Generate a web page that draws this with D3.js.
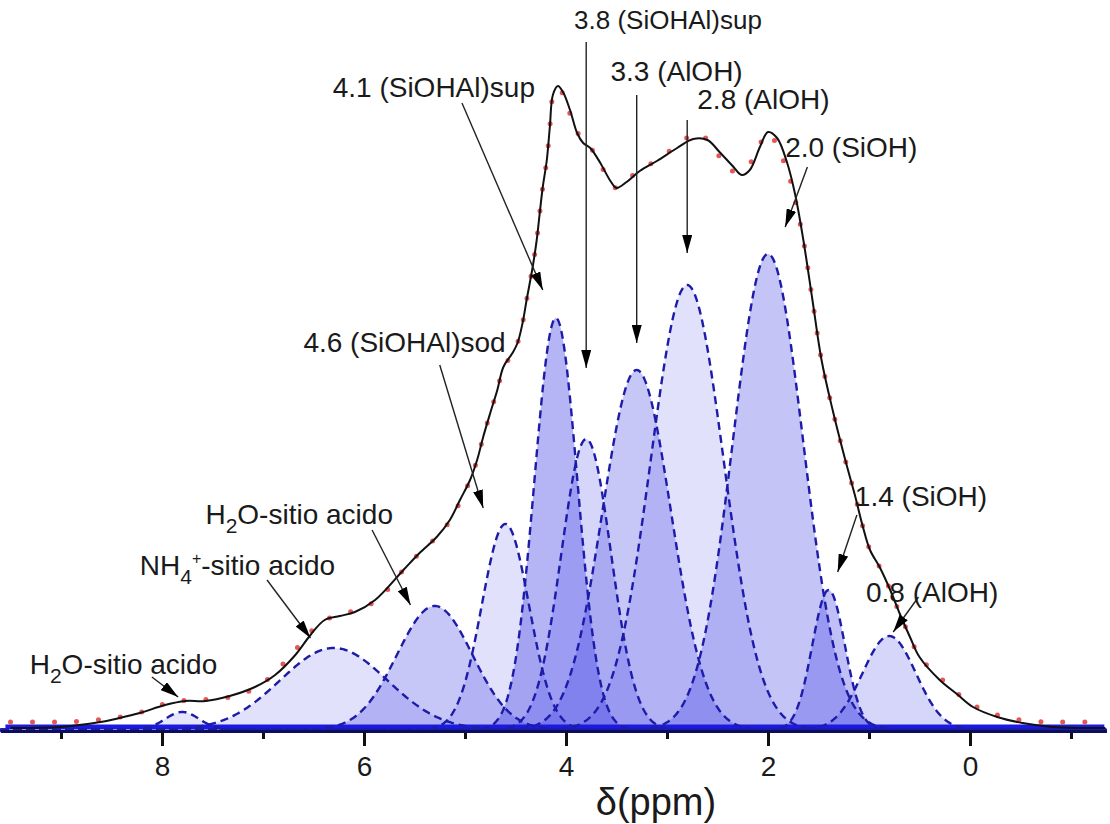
<!DOCTYPE html>
<html>
<head>
<meta charset="utf-8">
<script src="https://cdn.jsdelivr.net/npm/d3@7/dist/d3.min.js"></script>
<style>
  html, body { margin: 0; padding: 0; background: #ffffff; }
  svg { display: block; }
  text { font-family: "Liberation Sans", Arial, sans-serif; fill: #1a1a1a; }
</style>
</head>
<body>
<svg id="chart" width="1110" height="824"></svg>
<script>
// 1H MAS NMR spectrum: deconvolution into Gaussian components

// axis ticks (ppm)
const majorTicks = [8, 6, 4, 2, 0];
const minorTicks = [9, 7, 5, 3, 1, -1];

// fitted components: position (ppm), height (a.u.), full width at half maximum (ppm)
const peakCenters = [7.8, 6.3, 5.3, 4.6, 4.1, 3.8, 3.3, 2.8, 2.0, 1.4, 0.8];
const peakHeights = [1.8, 8.2, 12.4, 20.6, 41.2, 29.1, 36.0, 44.5, 47.6, 14.0, 9.4];
const peakFwhm    = [0.40, 1.25, 0.88, 0.55, 0.50, 0.58, 0.80, 0.85, 0.82, 0.38, 0.62];

// overall fit (ppm, a.u.)
const fitPpm = [9.50, 9.01, 8.61, 8.42, 8.22, 7.97, 7.77, 7.57, 7.33, 7.08, 6.88, 6.68, 6.53, 6.39, 6.24, 6.09, 5.89,
  5.61, 5.45, 5.28, 5.15, 5.05, 4.95, 4.88, 4.82, 4.75, 4.68, 4.62, 4.53, 4.48, 4.43, 4.39, 4.33, 4.29, 4.26, 4.23,
  4.19, 4.16, 4.13, 4.08, 4.03, 3.96, 3.89, 3.83, 3.76, 3.66, 3.56, 3.50, 3.40, 3.27, 3.10, 2.90, 2.74, 2.60, 2.48,
  2.35, 2.26, 2.18, 2.08, 2.00, 1.91, 1.81, 1.73, 1.65, 1.56, 1.47, 1.36, 1.24, 1.14, 1.06, 0.99, 0.89, 0.79, 0.69,
  0.59, 0.50, 0.30, 0.13, -0.03, -0.27, -0.52, -0.82, -1.09, -1.34];
const fitInt = [0.2, 0.3, 0.8, 1.2, 1.7, 2.5, 2.9, 2.9, 3.4, 4.3, 5.5, 7.5, 9.5, 11.0, 11.4, 11.8, 13.0,
  16.0, 17.7, 19.3, 21.0, 23.0, 25.0, 27.0, 29.3, 31.7, 34.0, 36.3, 37.7, 38.7, 40.7, 43.0, 46.3, 49.0, 51.7, 54.3,
  57.0, 60.3, 63.5, 64.4, 63.8, 62.0, 59.7, 58.7, 58.2, 56.7, 54.9, 54.2, 54.8, 55.9, 56.9, 58.2, 59.1, 59.0, 57.8,
  56.4, 55.5, 56.0, 58.3, 59.8, 59.2, 56.7, 53.5, 49.0, 43.0, 37.0, 32.0, 27.2, 23.5, 20.3, 18.0, 16.2, 14.0, 11.5,
  9.2, 7.3, 5.0, 3.6, 2.3, 1.3, 0.7, 0.3, 0.2, 0.2];

// experimental spectrum (ppm, a.u.)
const expPpm = [9.50, 9.18, 8.93, 8.66, 8.42, 8.17, 7.95, 7.72, 7.48, 7.23, 7.00, 6.83, 6.68, 6.53, 6.36, 6.14, 5.87,
  5.61, 5.45, 5.28, 5.15, 5.05, 4.95, 4.88, 4.82, 4.75, 4.68, 4.62, 4.53, 4.48, 4.43, 4.39, 4.33, 4.29, 4.26, 4.23,
  4.19, 4.16, 4.13, 4.08, 4.03, 3.98, 3.89, 3.74, 3.63, 3.50, 3.30, 3.10, 2.89, 2.70, 2.52, 2.40, 2.21, 2.10, 2.00,
  1.85, 1.78, 1.65, 1.56, 1.47, 1.36, 1.24, 1.14, 1.06, 0.99, 0.89, 0.79, 0.69, 0.59, 0.50, 0.30, 0.13, -0.07, -0.27,
  -0.50, -0.76, -0.99, -1.34];
const expInt = [0.8, 0.8, 0.8, 1.0, 1.3, 1.9, 2.7, 3.0, 3.1, 3.5, 4.7, 6.3, 8.0, 9.8, 11.1, 11.8, 13.0,
  16.0, 17.7, 19.3, 20.9, 22.8, 25.0, 27.0, 29.3, 31.7, 34.0, 36.2, 37.6, 38.7, 40.7, 43.0, 46.3, 49.0, 51.7, 54.3,
  57.0, 60.3, 63.3, 64.2, 63.6, 62.2, 59.8, 58.0, 56.0, 54.2, 55.8, 57.0, 58.5, 59.7, 58.0, 56.0, 56.3, 58.2, 59.7,
  57.0, 55.0, 49.0, 43.0, 37.0, 32.0, 27.2, 23.5, 20.3, 18.0, 16.2, 14.0, 11.5, 9.2, 7.3, 5.3, 3.7, 2.3, 1.5,
  1.0, 0.8, 0.8, 0.8];

// peak assignments: label anchor and arrow (from -> tip), all in (ppm, a.u.)
const annotations = [
  { parts: [["3.8 (SiOHAl)sup"]],            at: [3.92, 70.1], from: [3.8, 68.8],  to: [3.8, 36.2], size: 26 },
  { parts: [["4.1 (SiOHAl)sup"]],            at: [6.31, 63.3], from: [5.03, 62.7], to: [4.23, 44.0] },
  { parts: [["3.3 (AlOH)"]],                 at: [3.56, 64.9], from: [3.3, 63.5],  to: [3.3, 38.7] },
  { parts: [["2.8 (AlOH)"]],                 at: [2.70, 62.1], from: [2.8, 61.0],  to: [2.8, 47.7] },
  { parts: [["2.0 (SiOH)"]],                 at: [1.83, 57.3], from: [1.61, 56.3], to: [1.83, 50.3] },
  { parts: [["4.6 (SiOHAl)sod"]],            at: [6.60, 37.8], from: [5.25, 36.5], to: [4.82, 22.2] },
  { parts: [["H"], ["2", "sub"], ["O-sitio acido"]], at: [7.57, 20.6], from: [5.92, 20.0], to: [5.54, 12.5] },
  { parts: [["NH"], ["4", "sub"], ["+", "sup"], ["-sitio acido"]], at: [8.22, 15.5], from: [6.96, 15.0], to: [6.53, 9.2] },
  { parts: [["H"], ["2", "sub"], ["O-sitio acido"]], at: [9.31, 5.6], from: [8.10, 5.3], to: [7.84, 3.3] },
  { parts: [["1.4 (SiOH)"]],                 at: [1.14, 22.4], from: [1.12, 21.5], to: [1.31, 15.8] },
  { parts: [["0.8 (AlOH)"]],                 at: [1.03, 12.8], from: [0.51, 13.3], to: [0.76, 9.8] }
];

// fill strength of each component
const fillAlpha = [0.14, 0.16, 0.30, 0.16, 0.40, 0.22, 0.30, 0.16, 0.32, 0.34, 0.22];

const svg = d3.select("#chart");
const x = d3.scaleLinear().domain([9.6, -1.35]).range([0.4, 1106.35]);
const y = d3.scaleLinear().domain([0, 65]).range([730, 80]);

const gauss = (c, h, w) => {
  const s = w / 2.3548;
  return p => h * Math.exp(-((p - c) * (p - c)) / (2 * s * s));
};
const grid = d3.range(9.6, -1.36, -0.01);

const comps = peakCenters.map((c, i) => {
  const f = gauss(c, peakHeights[i], peakFwhm[i]);
  return grid.map(p => [p, f(p)]);
});

const area = d3.area().x(d => x(d[0])).y0(y(0)).y1(d => y(d[1]));
const line = d3.line().x(d => x(d[0])).y(d => y(d[1]));

// component fills
svg.append("g").selectAll("path").data(comps).join("path")
  .attr("d", area)
  .attr("fill", "rgb(70,70,230)")
  .attr("fill-opacity", (d, i) => fillAlpha[i]);

// overlapping component tails along the baseline
svg.append("line")
  .attr("x1", x(9.55)).attr("x2", x(-1.33))
  .attr("y1", y(0.3)).attr("y2", y(0.3))
  .attr("stroke", "#1a1ae0").attr("stroke-width", 5);

// component outlines
svg.append("g").selectAll("path").data(comps).join("path")
  .attr("d", line)
  .attr("fill", "none")
  .attr("stroke", "#1c1ca8")
  .attr("stroke-width", 2.4)
  .attr("stroke-dasharray", "8,5");

// x axis
const axisY = 731;
const gMinor = svg.append("g").attr("transform", `translate(0,${axisY})`)
  .call(d3.axisBottom(x).tickValues(minorTicks).tickSize(8).tickSizeOuter(0).tickFormat(""));
const gMajor = svg.append("g").attr("transform", `translate(0,${axisY})`)
  .call(d3.axisBottom(x).tickValues(majorTicks).tickSize(15).tickSizeOuter(0).tickPadding(10).tickFormat(d3.format("d")));
[gMinor, gMajor].forEach(g => {
  g.select(".domain").attr("stroke", "#0c0c60").attr("stroke-width", 3);
  g.selectAll(".tick line").attr("stroke", "#111").attr("stroke-width", 3);
});
gMajor.selectAll(".tick text").attr("font-size", 28).attr("fill", "#1a1a1a")
  .attr("font-family", "Liberation Sans, Arial, sans-serif");

svg.append("text")
  .attr("x", 656).attr("y", 815)
  .attr("text-anchor", "middle")
  .attr("font-size", 38)
  .text("δ(ppm)");

// experimental data (dotted) and fit envelope
const curve = d3.line().curve(d3.curveCatmullRom.alpha(0.5)).x(d => x(d[0])).y(d => y(d[1]));
svg.append("path")
  .datum(expPpm.map((p, i) => [p, expInt[i]]))
  .attr("d", curve)
  .attr("fill", "none")
  .attr("stroke", "#e03a3a")
  .attr("stroke-opacity", 0.85)
  .attr("stroke-width", 5)
  .attr("stroke-linecap", "round")
  .attr("stroke-dasharray", "0,22");

svg.append("path")
  .datum(fitPpm.map((p, i) => [p, fitInt[i]]))
  .attr("d", curve)
  .attr("fill", "none")
  .attr("stroke", "#111")
  .attr("stroke-width", 2);

// arrows
svg.append("defs").append("marker")
  .attr("id", "head")
  .attr("viewBox", "0 0 18 10")
  .attr("refX", 18).attr("refY", 5)
  .attr("markerWidth", 18).attr("markerHeight", 10)
  .attr("markerUnits", "userSpaceOnUse")
  .attr("orient", "auto")
  .append("path").attr("d", "M0,0 L18,5 L0,10 Z").attr("fill", "#000");

const gAnn = svg.append("g");
gAnn.selectAll("line").data(annotations).join("line")
  .attr("x1", d => x(d.from[0])).attr("y1", d => y(d.from[1]))
  .attr("x2", d => x(d.to[0])).attr("y2", d => y(d.to[1]))
  .attr("stroke", "#222").attr("stroke-width", 1.4)
  .attr("marker-end", "url(#head)");

gAnn.selectAll("text").data(annotations).join("text")
  .attr("x", d => x(d.at[0])).attr("y", d => y(d.at[1]))
  .attr("font-size", d => d.size || 28)
  .each(function (d) {
    const t = d3.select(this);
    let shift = 0;
    d.parts.forEach(([s, kind]) => {
      const ts = t.append("tspan").text(s);
      let target = 0;
      if (kind === "sub") { ts.attr("font-size", 21); target = 9; }
      if (kind === "sup") { ts.attr("font-size", 16); target = -11; }
      ts.attr("dy", target - shift);
      shift = target;
    });
  });
</script>
</body>
</html>
